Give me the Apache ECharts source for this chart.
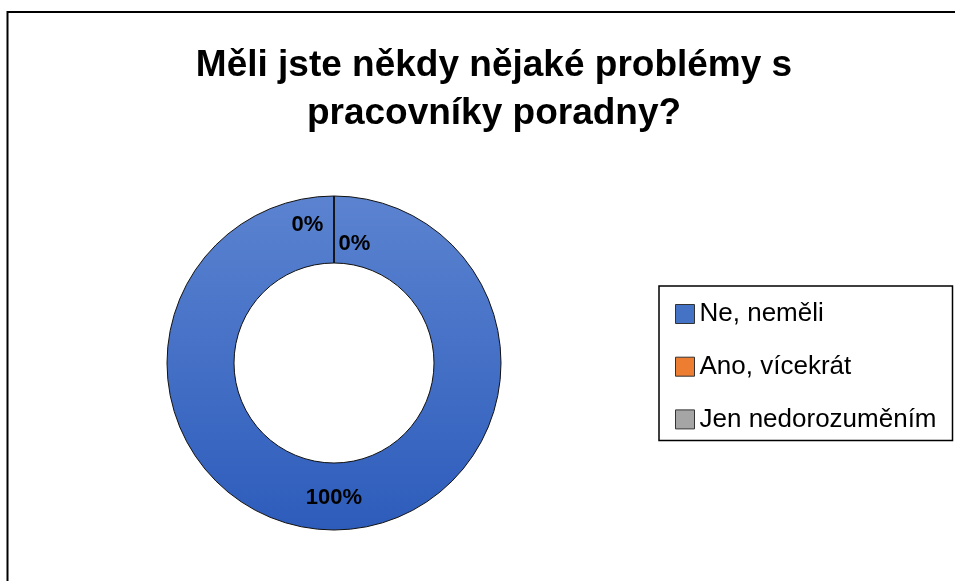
<!DOCTYPE html>
<html>
<head>
<meta charset="utf-8">
<script src="https://cdn.jsdelivr.net/npm/echarts@6/dist/echarts.min.js"></script>
<style>
html,body{margin:0;padding:0;background:#fff;}
#chart{width:955px;height:581px;}
</style>
</head>
<body>
<div id="chart"></div>
<script>
const titleText = 'Měli jste někdy nějaké problémy s\npracovníky poradny?';
const categories = ['Ne, neměli', 'Ano, vícekrát', 'Jen nedorozuměním'];
const values = [100, 0, 0];
const legendColors = ['#4472c4', '#ed7d31', '#a5a5a5'];
const labelOffsets = [[0, -1.5], [-26.5, -2], [20.5, 17]];

const FONT = 'Liberation Sans';
const chart = echarts.init(document.getElementById('chart'), null, {renderer: 'canvas'});

const ringFill = new echarts.graphic.LinearGradient(0, 0, 0, 1, [
  {offset: 0, color: '#5b83d0'},
  {offset: 1, color: '#2d5cbb'}
]);

const sliceFills = [ringFill, '#ed7d31', '#a5a5a5'];

chart.setOption({
  backgroundColor: '#ffffff',
  animation: false,
  title: {
    text: titleText,
    left: 489,
    top: 37,
    textAlign: 'center',
    textStyle: {
      fontFamily: FONT,
      fontSize: 37,
      fontWeight: 'bold',
      color: '#000',
      lineHeight: 48
    }
  },
  graphic: [{
    type: 'rect',
    shape: {x: 7.5, y: 12, width: 980, height: 620},
    style: {fill: 'none', stroke: '#000', lineWidth: 2},
    silent: true,
    z: 100
  }],
  legend: {
    orient: 'vertical',
    left: 659,
    top: 286,
    padding: [13, 0, 6, 16],
    itemGap: 22.7,
    itemWidth: 19,
    itemHeight: 19,
    icon: 'rect',
    backgroundColor: '#fff',
    borderColor: '#000',
    borderWidth: 1.5,
    borderRadius: 0,
    selectedMode: false,
    itemStyle: {borderColor: '#333', borderWidth: 1},
    textStyle: {
      fontFamily: FONT,
      fontSize: 26,
      color: '#000',
      lineHeight: 30,
      width: 253
    },
    data: categories.map((c, i) => ({
      name: c,
      itemStyle: {color: legendColors[i], borderColor: '#333', borderWidth: 1}
    }))
  },
  series: [{
    type: 'pie',
    center: [334, 363],
    radius: [100, 167],
    startAngle: 90,
    clockwise: true,
    avoidLabelOverlap: false,
    minAngle: 0,
    itemStyle: {borderColor: '#111', borderWidth: 1},
    label: {
      show: true,
      position: 'inside',
      formatter: '{d}%',
      fontFamily: FONT,
      fontSize: 22,
      fontWeight: 'bold',
      color: '#000'
    },
    labelLine: {show: false},
    emphasis: {disabled: true},
    data: categories.map((c, i) => ({
      name: c,
      value: values[i],
      itemStyle: {color: sliceFills[i]},
      label: {offset: labelOffsets[i]}
    }))
  }]
});
</script>
</body>
</html>
